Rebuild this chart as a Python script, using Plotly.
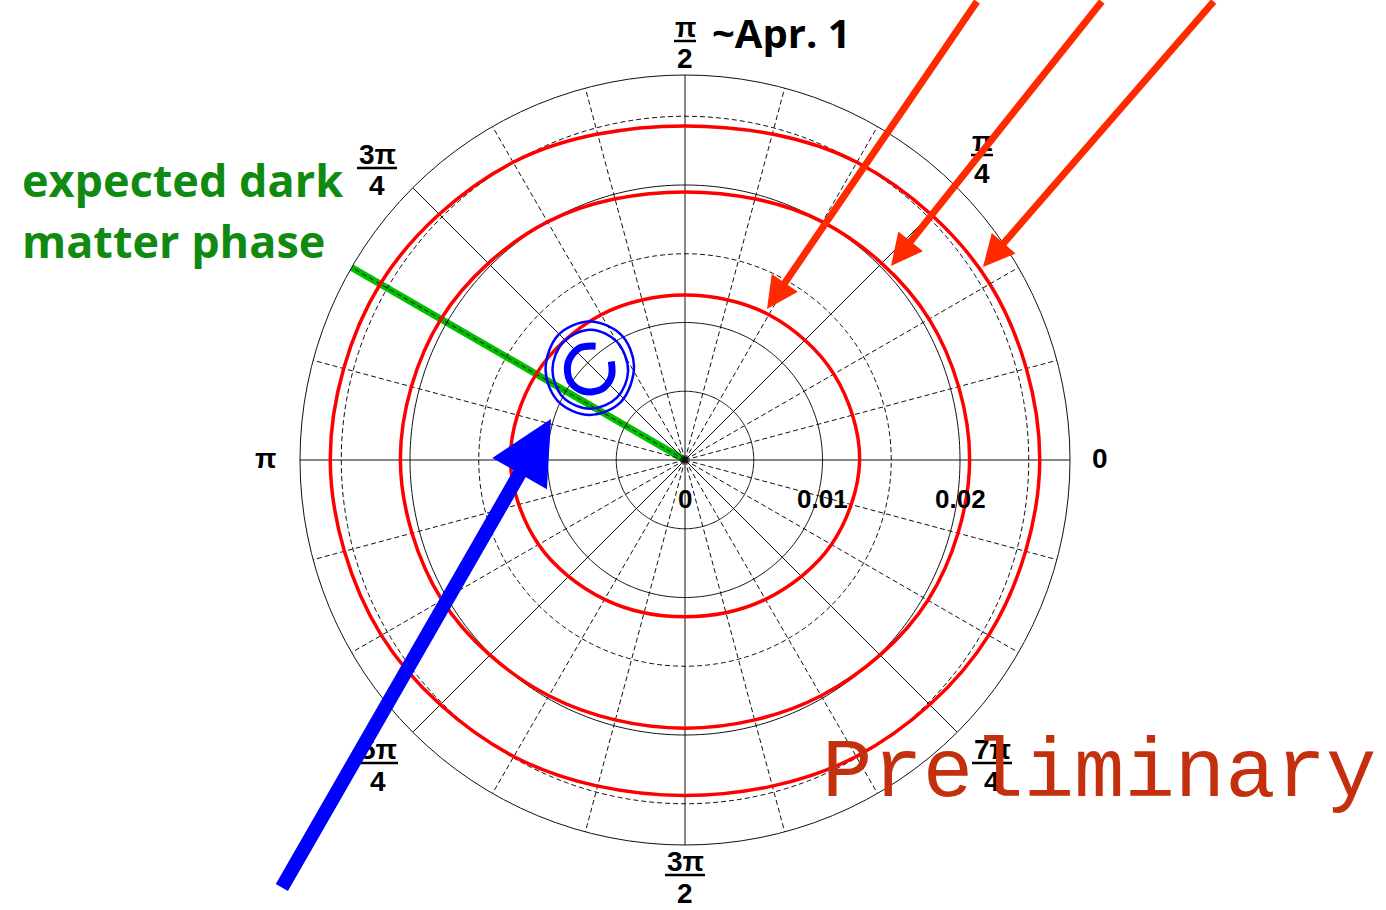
import numpy as np
import plotly.graph_objects as go

W, H = 1386, 910
CX, CY = 685, 460     # pixel centre of the polar frame
RPX = 385             # pixel radius of the polar frame

# ---------------- data ----------------
R_MAX = 0.028
grid_solid_r = [0.005, 0.01, 0.02]
grid_dashed_r = [0.015, 0.025]
spoke_solid_deg = [0, 45, 90, 135, 180, 225, 270, 315]
spoke_dashed_deg = [15, 30, 60, 75, 105, 120, 150, 165, 195, 210, 240, 255, 285, 300, 330, 345]

radial_tick_vals = [0.0, 0.01, 0.02]
radial_tick_text = ["0", "0.01", "0.02"]

red_theta = [0, 30, 60, 90, 120, 150, 180, 210, 240, 270, 300, 330, 360]
red_inner_r = [0.0127, 0.0125, 0.0122, 0.0120, 0.0122, 0.0125, 0.0127, 0.0123, 0.0117, 0.0114, 0.0117, 0.0123, 0.0127]
red_middle_r = [0.0207, 0.0205, 0.0200, 0.0195, 0.0200, 0.0205, 0.0207, 0.0204, 0.0198, 0.0195, 0.0198, 0.0204, 0.0207]
red_outer_r = [0.0258, 0.0256, 0.0250, 0.0243, 0.0250, 0.0256, 0.0258, 0.0255, 0.0249, 0.0244, 0.0249, 0.0255, 0.0258]

green_theta = [150, 150]
green_r = [0.0, 0.028]

# blue contours, cartesian readings (same units as radius)
blue_outer_x = [-0.00371, -0.00464, -0.00693, -0.00921, -0.01014, -0.00921, -0.00693, -0.00464, -0.00371]
blue_outer_y = [0.00687, 0.00910, 0.01007, 0.00910, 0.00657, 0.00425, 0.00328, 0.00425, 0.00687]
blue_inner_x = [-0.00414, -0.00493, -0.00686, -0.00886, -0.00964, -0.00886, -0.00686, -0.00493, -0.00414]
blue_inner_y = [0.00649, 0.00858, 0.00948, 0.00858, 0.00657, 0.00455, 0.00373, 0.00455, 0.00649]
blue_c_x = [-0.00650, -0.00771, -0.00850, -0.00836, -0.00736, -0.00607, -0.00536, -0.00536]
blue_c_y = [0.00828, 0.00813, 0.00709, 0.00575, 0.00500, 0.00515, 0.00604, 0.00716]

# angular labels: (x_px, bar_y_px, numerator, denominator)
frac_labels = [
    (685, 41, "π", "2"),
    (982, 155, "π", "4"),
    (377, 168, "3π", "4"),
    (378, 763, "5π", "4"),
    (685, 875, "3π", "2"),
    (992, 763, "7π", "4"),
]
single_labels = [(1100, 458, "0"), (265, 458, "π")]

# arrows: (tail_x, tail_y, tip_x, tip_y) in px
red_arrows = [(978, -6, 767, 309), (1103, -6, 891, 266), (1215, -6, 983, 267)]
blue_arrow = (281, 889, 551, 419)

# ---------------- figure ----------------
def px(x):
    return x / W


def py(y):
    return 1 - y / H


def to_polar(xs, ys):
    xs = np.asarray(xs)
    ys = np.asarray(ys)
    return np.hypot(xs, ys), np.degrees(np.arctan2(ys, xs))


fig = go.Figure()
circle_theta = np.arange(0, 361, 1)
GRID = "#111111"

# green phase line (under grid)
fig.add_trace(go.Scatterpolar(r=green_r, theta=green_theta, mode="lines",
                              line=dict(color="#00C000", width=7), hoverinfo="skip"))

for r in grid_solid_r:
    fig.add_trace(go.Scatterpolar(r=[r] * len(circle_theta), theta=circle_theta, mode="lines",
                                  line=dict(color=GRID, width=1), hoverinfo="skip"))
for r in grid_dashed_r:
    fig.add_trace(go.Scatterpolar(r=[r] * len(circle_theta), theta=circle_theta, mode="lines",
                                  line=dict(color=GRID, width=1, dash="5px,3px"), hoverinfo="skip"))
for a in spoke_solid_deg:
    fig.add_trace(go.Scatterpolar(r=[0, R_MAX], theta=[a, a], mode="lines",
                                  line=dict(color=GRID, width=1), hoverinfo="skip"))
for a in spoke_dashed_deg:
    fig.add_trace(go.Scatterpolar(r=[0, R_MAX], theta=[a, a], mode="lines",
                                  line=dict(color=GRID, width=1, dash="5px,3px"), hoverinfo="skip"))

for rr in (red_inner_r, red_middle_r, red_outer_r):
    fig.add_trace(go.Scatterpolar(r=rr, theta=red_theta, mode="lines",
                                  line=dict(color="#FF0000", width=3.5, shape="spline"),
                                  hoverinfo="skip"))

for xs, ys, w in ((blue_outer_x, blue_outer_y, 2.5), (blue_inner_x, blue_inner_y, 2.5), (blue_c_x, blue_c_y, 7)):
    r, t = to_polar(xs, ys)
    fig.add_trace(go.Scatterpolar(r=r, theta=t, mode="lines",
                                  line=dict(color="#0000FF", width=w, shape="spline"),
                                  hoverinfo="skip"))

ann = []
shapes = []
LABEL_FONT = dict(family="Liberation Sans", size=28, color="black", weight=700)
for x, yb, num, den in frac_labels:
    ann.append(dict(x=px(x), y=py(yb - 14), xref="paper", yref="paper", text=num, showarrow=False,
                    font=LABEL_FONT, xanchor="center", yanchor="middle", borderpad=0))
    ann.append(dict(x=px(x), y=py(yb + 18), xref="paper", yref="paper", text=den, showarrow=False,
                    font=LABEL_FONT, xanchor="center", yanchor="middle", borderpad=0))
    half = 11 if len(num) == 1 else 20
    shapes.append(dict(type="line", xref="paper", yref="paper", x0=px(x - half), x1=px(x + half),
                       y0=py(yb), y1=py(yb), line=dict(color="black", width=2.5)))
for x, y, t in single_labels:
    ann.append(dict(x=px(x), y=py(y), xref="paper", yref="paper", text=t, showarrow=False,
                    font=LABEL_FONT, xanchor="center", yanchor="middle"))
for v, t in zip(radial_tick_vals, radial_tick_text):
    ann.append(dict(x=px(CX + v * RPX / R_MAX), y=py(CY + 39), xref="paper", yref="paper", text=t,
                    showarrow=False, font=dict(family="Liberation Sans", size=26, color="black", weight=700),
                    xanchor="center", yanchor="middle"))

ann.append(dict(x=px(710), y=py(33), xref="paper", yref="paper", text="~Apr. 1", showarrow=False,
                font=dict(family="Open Sans", size=40, color="black", weight=700),
                xanchor="left", yanchor="middle"))
ann.append(dict(x=px(20), y=py(180), xref="paper", yref="paper", text="expected dark", showarrow=False,
                font=dict(family="Open Sans", size=45, color="#118A11", weight=700),
                xanchor="left", yanchor="middle"))
ann.append(dict(x=px(20), y=py(241), xref="paper", yref="paper", text="matter phase", showarrow=False,
                font=dict(family="Open Sans", size=45, color="#118A11", weight=700),
                xanchor="left", yanchor="middle"))
ann.append(dict(x=px(1099), y=py(773), xref="paper", yref="paper", text="Preliminary", showarrow=False,
                font=dict(family="Liberation Mono", size=84, color="#C4300E"),
                xanchor="center", yanchor="middle"))

for tx, ty, hx, hy in red_arrows:
    ann.append(dict(x=px(hx), y=py(hy), xref="paper", yref="paper", text="", showarrow=True,
                    ax=tx - hx, ay=ty - hy, arrowhead=2, arrowsize=0.9, arrowwidth=7,
                    arrowcolor="#FF2A00", standoff=0))
tx, ty, hx, hy = blue_arrow
ann.append(dict(x=px(hx), y=py(hy), xref="paper", yref="paper", text="", showarrow=True,
                ax=tx - hx, ay=ty - hy, arrowhead=2, arrowsize=0.9, arrowwidth=14,
                arrowcolor="#0000FF", standoff=0))

fig.update_layout(
    width=W, height=H,
    margin=dict(l=0, r=0, t=0, b=0),
    paper_bgcolor="white",
    showlegend=False,
    polar=dict(
        domain=dict(x=[(CX - RPX) / W, (CX + RPX) / W], y=[(H - CY - RPX) / H, (H - CY + RPX) / H]),
        bgcolor="white",
        radialaxis=dict(range=[0, R_MAX], visible=False, showgrid=False),
        angularaxis=dict(showgrid=False, showticklabels=False, ticks="", showline=True,
                         linecolor=GRID, linewidth=1, rotation=0, direction="counterclockwise"),
    ),
    annotations=ann,
    shapes=shapes,
)

fig.write_html("out.html", config={"displayModeBar": False},
               post_script="document.body.style.margin='0';document.body.style.overflow='hidden';")
